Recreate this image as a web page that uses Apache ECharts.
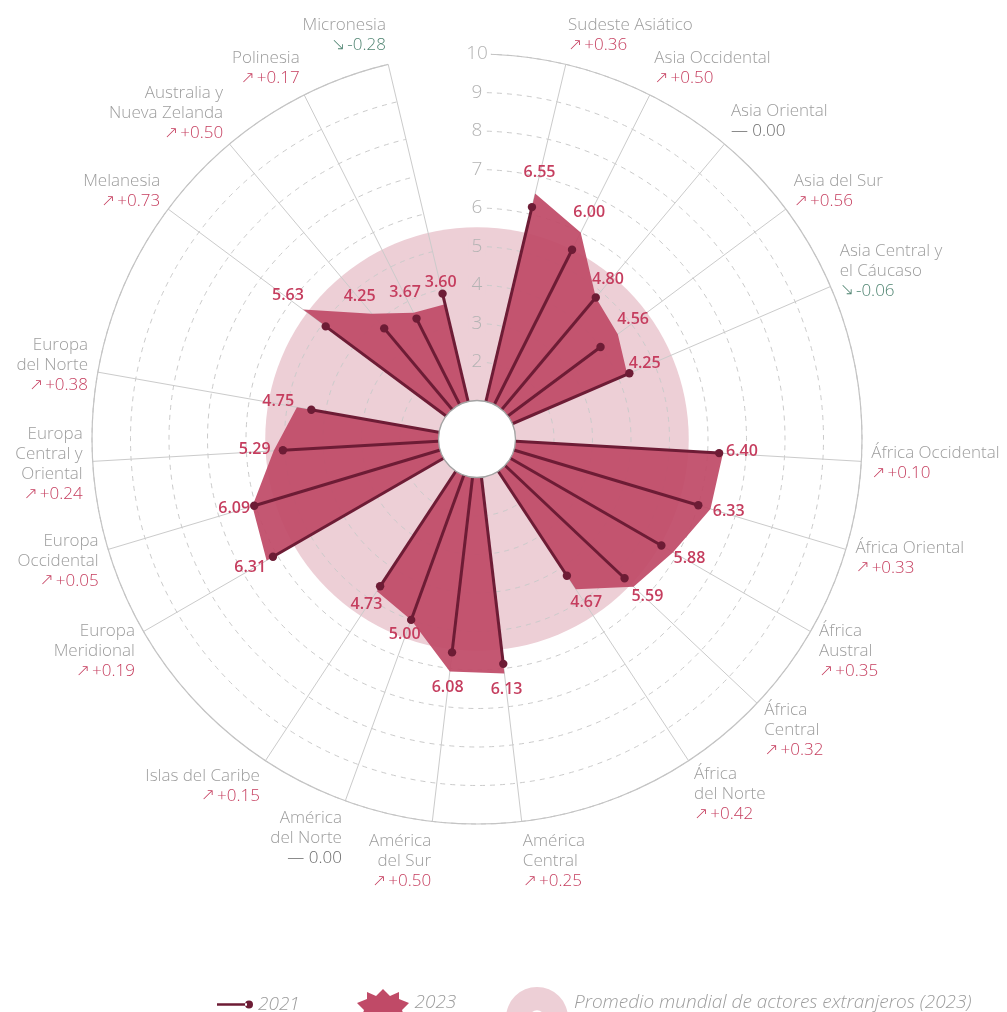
<!DOCTYPE html>
<html><head><meta charset="utf-8">
<script src="https://cdn.jsdelivr.net/npm/echarts@6/dist/echarts.min.js"></script>
<style>html,body{margin:0;padding:0;background:#fff}#c{width:1007px;height:1012px}</style>
</head><body><div id="c"></div>
<script>
// ---------- data ----------
const regions = ['Sudeste Asiático','Asia Occidental','Asia Oriental','Asia del Sur','Asia Central y\nel Cáucaso',
  'África Occidental','África Oriental','África\nAustral','África\nCentral','África\ndel Norte',
  'América\nCentral','América\ndel Sur','América\ndel Norte','Islas del Caribe',
  'Europa\nMeridional','Europa\nOccidental','Europa\nCentral y\nOriental','Europa\ndel Norte',
  'Melanesia','Australia y\nNueva Zelanda','Polinesia','Micronesia'];
const groupSizes = [5, 5, 4, 4, 4]; // Asia, África, América, Europa, Oceanía
const values2023 = [6.55, 6.00, 4.80, 4.56, 4.25, 6.40, 6.33, 5.88, 5.59, 4.67, 6.13, 6.08, 5.00, 4.73, 6.31, 6.09, 5.29, 4.75, 5.63, 4.25, 3.67, 3.60];
const values2021 = [6.19, 5.50, 4.80, 4.00, 4.31, 6.30, 6.00, 5.53, 5.27, 4.25, 5.88, 5.58, 5.00, 4.58, 6.12, 6.04, 5.05, 4.37, 4.90, 3.75, 3.50, 3.88];
const changes   = [0.36, 0.50, 0.00, 0.56, -0.06, 0.10, 0.33, 0.35, 0.32, 0.42, 0.25, 0.50, 0.00, 0.15, 0.19, 0.05, 0.24, 0.38, 0.73, 0.50, 0.17, -0.28];
const worldAverage2023 = 5.5;
const radiusTicks = [2, 3, 4, 5, 6, 7, 8, 9, 10];
const holeValue = 1;

// ---------- styling ----------
const PINK = '#edcfd6', FILL23 = '#c04a67', C21 = '#6d1c35', VAL = '#c53d5e';
const GRAYTXT = '#9d9d9d', GREEN = '#4f8471', DARK = '#6b6b6b', GRID = '#cbcbcb';
const FONT = '"Open Sans", Lato, sans-serif';
const AVG_NAME = 'Promedio mundial de actores extranjeros (2023)';

// ---------- slot layout (gap slot before each group) ----------
const slotCats = [], slotOf = [];
let ri = 0;
groupSizes.forEach(n => { slotCats.push(''); for (let k = 0; k < n; k++) { slotOf.push(slotCats.length); slotCats.push(regions[ri++]); } });
const poly2023 = slotCats.map((c, s) => { const i = slotOf.indexOf(s); return [i >= 0 ? values2023[i] : 0, s]; });

function unit(api, params, v, s) {
  const cs = params.coordSys; const p = api.coord([v, s]);
  const dx = p[0] - cs.cx, dy = p[1] - cs.cy, L = Math.hypot(dx, dy) || 1;
  return { p, ux: dx / L, uy: dy / L, cx: cs.cx, cy: cs.cy };
}

const LH = 20;
const base = { fontSize: 17, fontFamily: FONT, fontWeight: 300, lineHeight: LH };
const arrow = { fontSize: 17, fontFamily: '"DejaVu Sans"', fontWeight: 200, lineHeight: LH, padding: [0, 2, 0, 0] };
const rich = {
  n: Object.assign({ fill: GRAYTXT }, base),
  au: Object.assign({ fill: VAL }, arrow),
  vu: Object.assign({ fill: VAL }, base),
  ad: Object.assign({ fill: GREEN }, arrow),
  vd: Object.assign({ fill: GREEN }, base),
  az: Object.assign({ fill: DARK }, base),
  vz: Object.assign({ fill: DARK }, base)
};
const legendText = { fontStyle: 'italic', fontSize: 19, color: GRAYTXT, fontFamily: FONT, fontWeight: 300 };

const chart = echarts.init(document.getElementById('c'), null, { renderer: 'canvas' });
chart.setOption({
  animation: false,
  backgroundColor: '#fff',
  polar: { center: [477, 439], radius: [0, 385] },
  angleAxis: {
    type: 'category', data: slotCats, startAngle: 90, clockwise: true, boundaryGap: false,
    axisLine: { show: true, lineStyle: { color: '#c4c4c4', width: 1.2 } },
    axisTick: { show: false }, axisLabel: { show: false },
    splitLine: { show: true, lineStyle: { color: slotCats.map(c => c ? GRID : 'rgba(0,0,0,0)'), width: 1 } }
  },
  radiusAxis: {
    type: 'value', min: 0, max: 10, interval: 1,
    axisLine: { show: false }, axisTick: { show: false }, axisLabel: { show: false },
    splitLine: { show: true, lineStyle: { color: GRID, type: [5, 5], width: 1 } }
  },
  legend: [
    { data: ['2021'], left: 212, top: 990, selectedMode: false, itemWidth: 36, itemHeight: 9,
      icon: 'path://M0,3.3H30V5.7H0Z M28,4.5A4,4 0 1,0 36,4.5A4,4 0 1,0 28,4.5Z', textStyle: legendText },
    { data: ['2023'], left: 352, top: 984, selectedMode: false, itemWidth: 53, itemHeight: 27,
      icon: 'path://M0,14 L10,10 L10,3 L19,7 L26,0 L33,7 L42,3 L42,10 L52,14 L45,21 L47,27 L26,23 L5,27 L7,21 Z', textStyle: legendText },
    { data: [AVG_NAME], left: 501, top: 982, selectedMode: false, itemWidth: 64, itemHeight: 31,
      icon: 'path://M0,32 A32,32 0 0,1 64,32 L40,32 A8,8 0 0,0 24,32 Z', textStyle: legendText }
  ],
  series: [
    { // world average disc
      type: 'custom', name: AVG_NAME, coordinateSystem: 'polar', z: -1, silent: true,
      itemStyle: { color: PINK }, data: [[worldAverage2023, 0]],
      renderItem: (params, api) => {
        const u = unit(api, params, api.value(0), 0);
        return { type: 'circle', shape: { cx: u.cx, cy: u.cy, r: Math.hypot(u.p[0] - u.cx, u.p[1] - u.cy) }, style: { fill: PINK } };
      }
    },
    { // 2023 shape
      type: 'custom', name: '2023', coordinateSystem: 'polar', z: 2, silent: true,
      itemStyle: { color: FILL23 }, data: poly2023,
      renderItem: (params, api) => {
        if (params.dataIndex !== 0) return null;
        const pts = poly2023.map(d => api.coord(d));
        return { type: 'polygon', shape: { points: pts }, style: { fill: FILL23, opacity: 0.93 } };
      }
    },
    { // 2021 lollipops
      type: 'custom', name: '2021', coordinateSystem: 'polar', z: 3, silent: true,
      itemStyle: { color: C21 },
      data: values2021.map((v, i) => [v, slotOf[i]]),
      renderItem: (params, api) => {
        const s = api.value(1);
        const p0 = api.coord([0, s]), p1 = api.coord([api.value(0), s]);
        return { type: 'group', children: [
          { type: 'line', shape: { x1: p0[0], y1: p0[1], x2: p1[0], y2: p1[1] }, style: { stroke: C21, lineWidth: 3 } },
          { type: 'circle', shape: { cx: p1[0], cy: p1[1], r: 4.2 }, style: { fill: C21 } }
        ] };
      }
    },
    { // hole
      type: 'custom', name: 'hole', coordinateSystem: 'polar', z: 4, silent: true,
      data: [[holeValue, 0]],
      renderItem: (params, api) => {
        const u = unit(api, params, api.value(0), 0);
        return { type: 'circle', shape: { cx: u.cx, cy: u.cy, r: Math.hypot(u.p[0] - u.cx, u.p[1] - u.cy) }, style: { fill: '#fff', stroke: '#a3a3a3', lineWidth: 1.3 } };
      }
    },
    { // radius tick labels
      type: 'custom', name: 'ticks', coordinateSystem: 'polar', z: 5, silent: true,
      data: radiusTicks.map(t => [t, 0]),
      renderItem: (params, api) => {
        const t = api.value(0); const p = api.coord([t, 0]);
        return { type: 'text', x: p[0], y: p[1], style: {
          text: String(t), fill: '#b3b3b3', font: '300 19px ' + FONT, align: 'center', verticalAlign: 'middle',
          backgroundColor: t > worldAverage2023 ? '#fff' : PINK, padding: [0, 3, 0, 3] } };
      }
    },
    { // 2023 value labels
      type: 'custom', name: 'values', coordinateSystem: 'polar', z: 6, silent: true,
      data: values2023.map((v, i) => [v, slotOf[i]]),
      renderItem: (params, api) => {
        const v = api.value(0), s = api.value(1);
        const u = unit(api, params, v, s);
        return { type: 'text', x: u.p[0] + 19 * u.ux, y: u.p[1] + 19 * u.uy - 3, style: {
          text: v.toFixed(2), fill: VAL, font: '600 16px "Open Sans", sans-serif', align: 'center', verticalAlign: 'middle' } };
      }
    },
    { // category labels
      type: 'custom', name: 'cats', coordinateSystem: 'polar', z: 6, silent: true,
      data: regions.map((r, i) => [10, slotOf[i]]),
      renderItem: (params, api) => {
        const i = params.dataIndex;
        const u = unit(api, params, api.value(0), api.value(1));
        const ax = u.p[0] + 10 * u.ux, ay = u.p[1] + 10 * u.uy;
        const lines = regions[i].split('\n');
        const h = (lines.length + 1) * LH;
        const top = ay - h * (1 - u.uy) / 2;
        const ch = changes[i];
        const chStr = ch > 0 ? '{au|↗}{vu|+' + ch.toFixed(2) + '}'
                    : ch < 0 ? '{ad|↘}{vd|' + ch.toFixed(2) + '}'
                    : '{az|—}{vz| ' + ch.toFixed(2) + '}';
        const text = lines.map(l => '{n|' + l + '}').join('\n') + '\n' + chStr;
        return { type: 'text', x: ax, y: top, style: { text, rich, align: u.ux >= 0 ? 'left' : 'right', verticalAlign: 'top' } };
      }
    }
  ]
});
</script>
</body></html>
